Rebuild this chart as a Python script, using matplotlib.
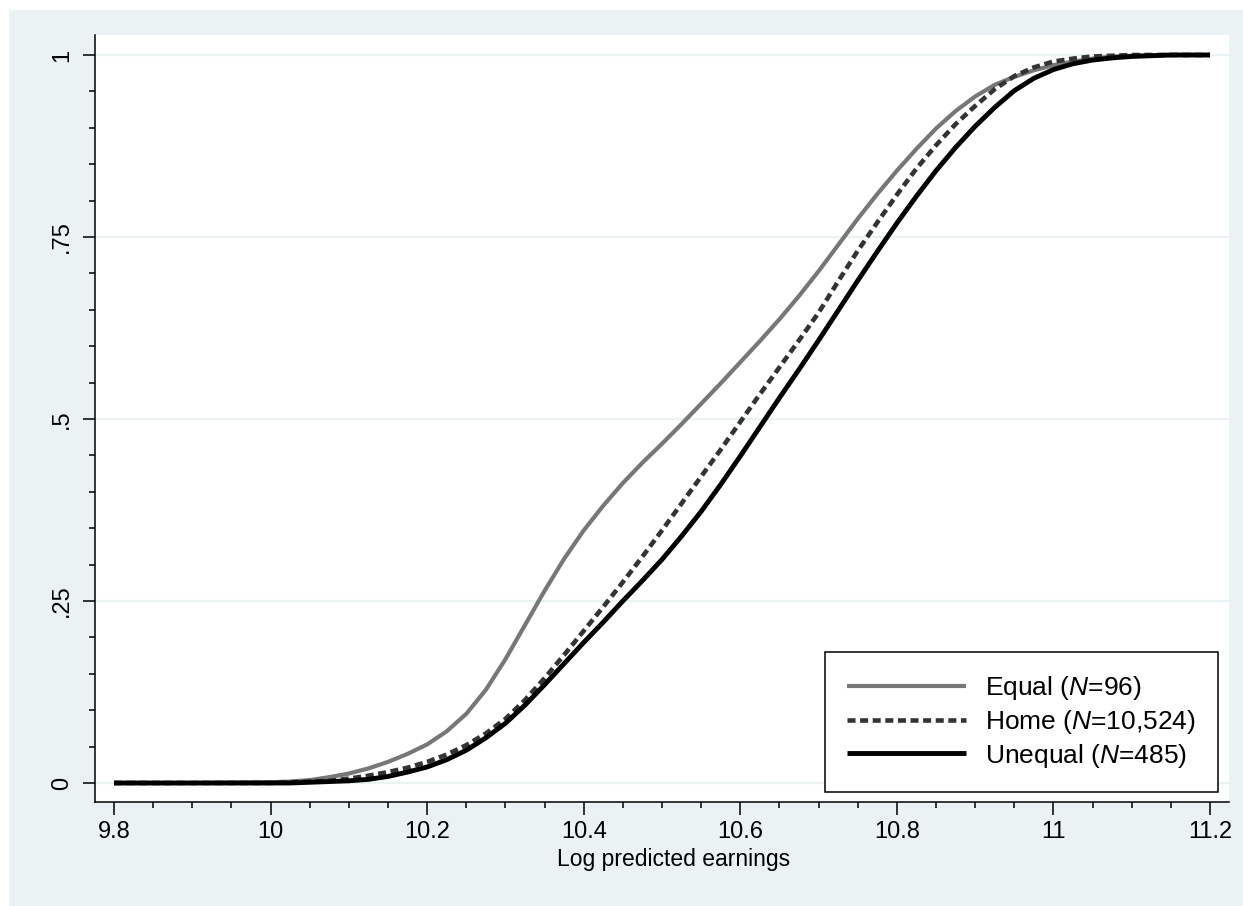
import matplotlib
matplotlib.use("Agg")
import matplotlib.pyplot as plt
from matplotlib.patches import Rectangle
from matplotlib.ticker import MultipleLocator

plt.rcParams['font.family'] = ['Liberation Sans', 'DejaVu Sans']
plt.rcParams['mathtext.fontset'] = 'custom'
plt.rcParams['mathtext.rm'] = 'Liberation Sans'
plt.rcParams['mathtext.it'] = 'Liberation Sans:italic'

# log predicted earnings grid (x) and cumulative shares
earn = [9.8, 9.9, 10.0, 10.025, 10.05, 10.075, 10.1, 10.125, 10.15, 10.175,
        10.2, 10.225, 10.25, 10.275, 10.3, 10.325, 10.35, 10.375, 10.4, 10.425,
        10.45, 10.475, 10.5, 10.525, 10.55, 10.575, 10.6, 10.625, 10.65, 10.675,
        10.7, 10.725, 10.75, 10.775, 10.8, 10.825, 10.85, 10.875, 10.9, 10.925,
        10.95, 10.975, 11.0, 11.025, 11.05, 11.075, 11.1, 11.15, 11.2]

equal = [0.0, 0.0, 0.001, 0.002, 0.004, 0.008, 0.013, 0.02, 0.029, 0.04,
         0.053, 0.071, 0.095, 0.128, 0.17, 0.217, 0.264, 0.308, 0.347, 0.381,
         0.412, 0.44, 0.466, 0.493, 0.521, 0.549, 0.578, 0.607, 0.637, 0.669,
         0.703, 0.739, 0.775, 0.809, 0.841, 0.871, 0.899, 0.923, 0.943, 0.959,
         0.97, 0.979, 0.986, 0.991, 0.995, 0.998, 0.999, 1.0, 1.0]

home = [0.0, 0.0, 0.0, 0.001, 0.002, 0.003, 0.006, 0.01, 0.015, 0.021,
        0.029, 0.039, 0.052, 0.068, 0.088, 0.114, 0.144, 0.176, 0.209, 0.242,
        0.276, 0.311, 0.347, 0.384, 0.421, 0.458, 0.496, 0.534, 0.571, 0.608,
        0.646, 0.689, 0.731, 0.77, 0.808, 0.844, 0.876, 0.905, 0.93, 0.953,
        0.971, 0.983, 0.991, 0.995, 0.998, 0.999, 1.0, 1.0, 1.0]

unequal = [0.0, 0.0, 0.0, 0.0, 0.001, 0.002, 0.003, 0.005, 0.009, 0.015,
           0.022, 0.032, 0.045, 0.062, 0.082, 0.107, 0.135, 0.164, 0.193, 0.221,
           0.25, 0.278, 0.307, 0.339, 0.373, 0.41, 0.449, 0.489, 0.529, 0.568,
           0.608, 0.649, 0.69, 0.73, 0.769, 0.806, 0.841, 0.873, 0.902, 0.928,
           0.951, 0.968, 0.98, 0.988, 0.993, 0.996, 0.998, 1.0, 1.0]

labels = [r'Equal ($\mathit{N}$=96)', r'Home ($\mathit{N}$=10,524)',
          r'Unequal ($\mathit{N}$=485)']
xticks = [9.8, 10, 10.2, 10.4, 10.6, 10.8, 11, 11.2]
xticklabels = ['9.8', '10', '10.2', '10.4', '10.6', '10.8', '11', '11.2']
yticks = [0, 0.25, 0.5, 0.75, 1]
yticklabels = ['0', '.25', '.5', '.75', '1']

bg = '#eaf2f3'

fig = plt.figure(figsize=(12.43, 9.06), dpi=100, facecolor='white')
# light outer panel, thin white strip on top and left
fig.add_artist(Rectangle((9/1243, 0), 1 - 9/1243, 1 - 10/906,
                         transform=fig.transFigure, facecolor=bg,
                         edgecolor='none', zorder=-10))

ax = fig.add_axes([95/1243, 104/906, (1229-95)/1243, (802-35)/906])
ax.set_facecolor('white')

ax.plot(earn, equal, color='#777777', lw=3.0, label=labels[0], solid_capstyle='butt')
ax.plot(earn, home, color='#333333', lw=3.3, linestyle=(0, (1.75, 1.0)),
        dash_capstyle='butt', label=labels[1])
ax.plot(earn, unequal, color='black', lw=3.5, label=labels[2], solid_capstyle='butt')

ax.set_xlim(9.8 - 19/782.5, 11.2 + 19/782.5)
ax.set_ylim(-19/728, 1 + 20/728)

ax.set_xticks(xticks)
ax.set_xticklabels(xticklabels)
ax.set_yticks(yticks)
ax.set_yticklabels(yticklabels, rotation=90, va='center')
ax.xaxis.set_minor_locator(MultipleLocator(0.05))
ax.yaxis.set_minor_locator(MultipleLocator(0.05))

ax.tick_params(axis='both', which='major', length=9, width=1.1, labelsize=17, color='black')
ax.tick_params(axis='both', which='minor', length=4.5, width=1.1)
ax.tick_params(axis='x', which='major', pad=5)
ax.tick_params(axis='y', which='major', pad=7)

ax.grid(axis='y', which='major', color=bg, lw=1.6)
ax.set_axisbelow(True)

for s in ['top', 'right']:
    ax.spines[s].set_visible(False)
for s in ['left', 'bottom']:
    ax.spines[s].set_linewidth(1.1)
    ax.spines[s].set_color('black')

ax.set_xlabel('Log predicted earnings', fontsize=16.5, labelpad=4)
ax.xaxis.set_label_coords(0.51, -0.06)

leg = ax.legend(loc='lower right', bbox_to_anchor=(0.9903, 0.013), borderaxespad=0,
                fontsize=19, handlelength=4.5, handletextpad=0.72, labelspacing=0.22,
                fancybox=False, framealpha=1, edgecolor='black', borderpad=0.85)
leg.get_frame().set_linewidth(1.1)

fig.savefig('out.png', dpi=100, facecolor=fig.get_facecolor())
